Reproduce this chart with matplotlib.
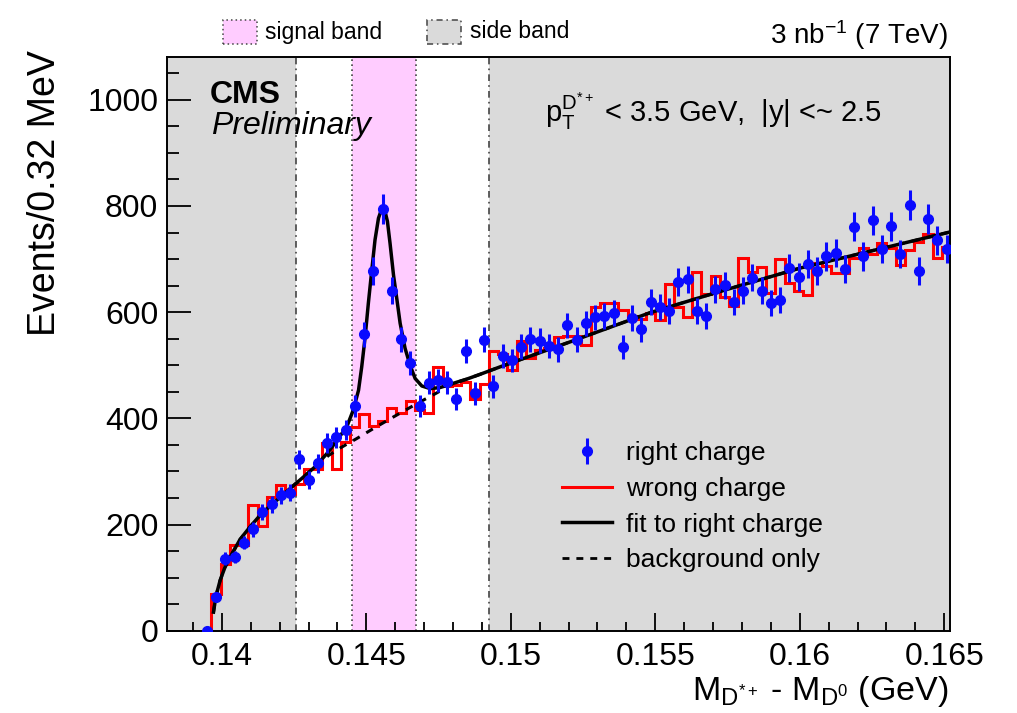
import numpy as np
import matplotlib.pyplot as plt
from matplotlib.lines import Line2D
from matplotlib.patches import Rectangle

plt.rcParams['font.family'] = ['Liberation Sans', 'DejaVu Sans']
plt.rcParams['mathtext.fontset'] = 'custom'
plt.rcParams['mathtext.rm'] = 'Liberation Sans'
plt.rcParams['mathtext.it'] = 'Liberation Sans:italic'
plt.rcParams['mathtext.bf'] = 'Liberation Sans:bold'

# Binning: 0.32 MeV bins in M(D*+) - M(D0)
bin_width = 0.00032
first_center = 0.13948
n_bins = 81

# right-charge candidates (events per bin)
right_charge = [
    0, 64, 136, 139, 166, 191, 223, 238, 255, 260,
    323, 284, 315, 353, 364, 378, 423, 558, 678, 794,
    640, 549, 504, 423, 467, 472, 468, 436, 527, 447,
    548, 460, 517, 509, 535, 549, 546, 536, 530, 575,
    548, 579, 590, 592, 599, 534, 589, 568, 619, 610,
    602, 657, 662, 602, 592, 643, 651, 619, 640, 665,
    640, 617, 623, 683, 666, 690, 678, 705, 712, 681,
    761, 705, 773, 719, 762, 710, 802, 678, 775, 735,
    719,
]

# wrong-charge combinations (events per bin)
wrong_charge = [
    0, 70, 125, 161, 161, 237, 198, 252, 274, 258,
    276, 304, 304, 353, 304, 356, 384, 409, 385, 395,
    419, 411, 433, 416, 411, 497, 460, 463, 469, 436,
    465, 526, 522, 491, 546, 513, 529, 532, 553, 555,
    555, 538, 609, 618, 618, 604, 593, 587, 599, 585,
    653, 610, 590, 676, 634, 668, 629, 612, 702, 676,
    686, 636, 700, 654, 639, 632, 692, 687, 673, 674,
    702, 720, 710, 731, 720, 689, 717, 733, 747, 702,
    723,
]

# fitted curve to the right-charge sample
fit_x = [0.13971, 0.13979, 0.13994, 0.14011, 0.14035, 0.14063, 0.14098,
         0.14138, 0.14184, 0.14230, 0.14277, 0.14323, 0.14369, 0.14403,
         0.14433, 0.14455, 0.14473, 0.14484, 0.14496, 0.14507, 0.14519,
         0.14530, 0.14542, 0.14554, 0.14562, 0.14573, 0.14582, 0.14594,
         0.14606, 0.14617, 0.14634, 0.14652, 0.14669, 0.14692, 0.14721,
         0.14755, 0.14801, 0.14848, 0.14894, 0.14963, 0.15205, 0.15482,
         0.15724, 0.16001, 0.16520]
fit_y = [35, 64, 95, 120, 145, 172, 196,
         221, 243, 265, 287, 309, 337, 362,
         385, 416, 453, 497, 554, 617, 680,
         736, 777, 796, 796, 771, 730, 670,
         623, 579, 532, 499, 475, 461, 456,
         458, 466, 474, 483, 497, 544, 599,
         639, 683, 751]

# background component of the fit
bkg_x = [0.13971, 0.13979, 0.13994, 0.14011, 0.14035, 0.14063, 0.14098,
         0.14138, 0.14184, 0.14230, 0.14277, 0.14323, 0.14369, 0.14409,
         0.14467, 0.14525, 0.14582, 0.14640, 0.14686, 0.14744, 0.14801,
         0.14848, 0.14894, 0.14963, 0.15205, 0.15482, 0.15724, 0.16001,
         0.16520]
bkg_y = [35, 64, 95, 120, 145, 172, 196,
         221, 243, 265, 287, 308, 330, 344,
         362, 381, 399, 417, 431, 448, 466,
         474, 483, 497, 544, 599, 639, 683,
         751]

# signal and side band windows
signal_band = (0.14450, 0.14672)
side_band_low = 0.14256
side_band_high = 0.14926

x_lo, x_hi = 0.13809, 0.1652
y_lo, y_hi = 0, 1080

centers = first_center + bin_width * np.arange(n_bins)
edges = np.append(centers - bin_width / 2, centers[-1] + bin_width / 2)
right = np.array(right_charge, dtype=float)
wrong = np.array(wrong_charge, dtype=float)

fig = plt.figure(figsize=(10.17, 7.13), dpi=100)
ax = fig.add_axes([0.1639, 0.1154, 0.7702, 0.8042])

side_col = '#dadada'
sig_col = '#ffccff'
ax.axvspan(x_lo, side_band_low, color=side_col, lw=0, zorder=0)
ax.axvspan(side_band_high, x_hi, color=side_col, lw=0, zorder=0)
ax.axvspan(*signal_band, color=sig_col, lw=0, zorder=0)
dashdot = (0, (4, 2.5, 1, 2.5))
for xv in (side_band_low, side_band_high):
    ax.axvline(xv, color='#444444', lw=1.2, ls=dashdot, zorder=1)
for xv in signal_band:
    ax.axvline(xv, color='#444444', lw=1.2, ls=(0, (1, 2)), zorder=1)

ax.stairs(wrong, edges, color='red', lw=2.2, zorder=2)
ax.plot(bkg_x, bkg_y, color='black', lw=2.2, ls=(0, (2.5, 2.5)), zorder=3)
ax.plot(fit_x, fit_y, color='black', lw=2.5, zorder=4)
eb = ax.errorbar(centers, right, yerr=np.sqrt(right), fmt='o', color='#0a0aff',
                 ms=7, elinewidth=2.2, capsize=0, zorder=5)

ax.set_xlim(x_lo, x_hi)
ax.set_ylim(y_lo, y_hi)
ax.set_xticks([0.14, 0.145, 0.15, 0.155, 0.16, 0.165])
ax.set_xticklabels(['0.14', '0.145', '0.15', '0.155', '0.16', '0.165'])
ax.set_xticks(np.arange(0.139, 0.1655, 0.001), minor=True)
ax.set_yticks(np.arange(0, 1001, 200))
ax.set_yticks(np.arange(0, 1080, 50), minor=True)
ax.tick_params(axis='both', which='both', direction='in', width=1.3,
               top=False, right=False, labelsize=23)
ax.tick_params(axis='x', which='major', length=13, pad=8)
ax.tick_params(axis='x', which='minor', length=6.5)
ax.tick_params(axis='y', which='major', length=17, pad=6)
ax.tick_params(axis='y', which='minor', length=8.5)
for sp in ax.spines.values():
    sp.set_linewidth(1.4)

fig.text(0.0442, 1 - 50 / 713, 'Events/0.32 MeV', rotation=90,
         ha='center', va='top', fontsize=27)
fig.text(948 / 1017, 1 - 700 / 713,
         r'$\mathrm{M_{D^{*+}}}$ - $\mathrm{M_{D^{0}}}$ (GeV)',
         ha='right', va='baseline', fontsize=24.5)

fig.text(0.2065, 1 - 103 / 713, 'CMS', fontweight='bold', fontsize=23)
fig.text(0.2075, 1 - 134 / 713, 'Preliminary', style='italic', fontsize=23)
fig.text(545 / 1017, 1 - 122 / 713,
         r'$\mathrm{p}_{\mathrm{T}}^{\mathrm{D}^{*+}}$ < 3.5 GeV,  |y| <~ 2.5',
         ha='left', va='baseline', fontsize=21)
fig.text(948 / 1017, 1 - 44 / 713, r'3 nb$^{-1}$ (7 TeV)',
         ha='right', va='baseline', fontsize=20)

# band legend above the frame
fig.patches.append(Rectangle((222.7 / 1017, 1 - 44 / 713), 34 / 1017, 24 / 713,
                             transform=fig.transFigure, facecolor=sig_col,
                             edgecolor='#444444', lw=1.1, ls=(0, (1, 2))))
fig.text(265 / 1017, 1 - 32 / 713, 'signal band', va='center', fontsize=16.5)
fig.patches.append(Rectangle((427.3 / 1017, 1 - 44 / 713), 34 / 1017, 24 / 713,
                             transform=fig.transFigure, facecolor=side_col,
                             edgecolor='#444444', lw=1.1, ls=dashdot))
fig.text(470 / 1017, 1 - 32 / 713, 'side band', va='center', fontsize=16.5)

handles = [eb,
           Line2D([], [], color='red', lw=2.2),
           Line2D([], [], color='black', lw=2.5),
           Line2D([], [], color='black', lw=2.0, ls=(0, (2.5, 2.5)))]
labels = ['right charge', 'wrong charge', 'fit to right charge', 'background only']
ax.legend(handles, labels, loc='upper left', bbox_to_anchor=(0.505, 0.33),
          frameon=False, fontsize=19, handlelength=1.9, handletextpad=0.5,
          labelspacing=0.44, borderpad=0, borderaxespad=0)

fig.savefig('out.png', dpi=100)
